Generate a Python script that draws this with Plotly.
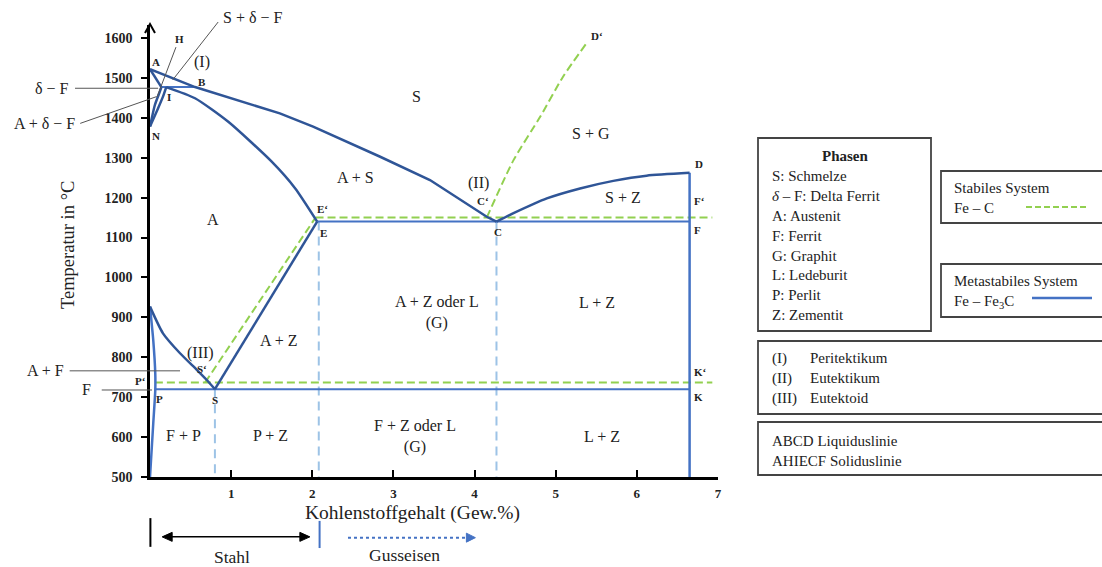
import plotly.graph_objects as go

# ---------------- data (C content in wt.%, temperature in °C) ----------------
# metastable system Fe-Fe3C (solid blue)
liq_abc_x = [0.00, 0.555, 1.60, 2.01, 2.83, 3.45, 4.15, 4.27]
liq_abc_T = [1522, 1477, 1411, 1378, 1303, 1244, 1152, 1140]
liq_cd_x = [4.27, 4.48, 4.89, 5.30, 5.71, 6.12, 6.65]
liq_cd_T = [1140, 1161, 1198, 1223, 1242, 1255, 1262]
sol_ah_x = [0.00, 0.14]
sol_ah_T = [1522, 1477]
perit_hb_x = [0.14, 0.555]
perit_hb_T = [1477, 1477]
nh_x = [0.00, 0.06, 0.12, 0.14]
nh_T = [1378, 1432, 1465, 1477]
ni_x = [0.00, 0.10, 0.16, 0.20]
ni_T = [1378, 1424, 1453, 1477]
sol_ie_x = [0.20, 0.555, 0.965, 1.50, 1.79, 2.06]
sol_ie_T = [1477, 1449, 1390, 1290, 1223, 1140]
eut_ecf_x = [2.06, 6.65]
eut_ecf_T = [1140, 1140]
dk_x = [6.65, 6.65]
dk_T = [1262, 500]
gs_x = [0.00, 0.16, 0.37, 0.58, 0.70, 0.80]
gs_T = [927, 860, 810, 768, 743, 720]
se_x = [0.80, 2.06]
se_T = [720, 1140]
gpq_x = [0.00, 0.04, 0.065, 0.065, 0.04, 0.00]
gpq_T = [927, 843, 759, 717, 634, 500]
psk_x = [0.06, 6.65]
psk_T = [720, 720]

# stable system Fe-C (green dashed)
st_ecf_x = [2.04, 6.93]
st_ecf_T = [1150, 1150]
st_cd_x = [4.15, 4.48, 4.81, 5.09, 5.38]
st_cd_T = [1150, 1294, 1403, 1503, 1587]
st_se_x = [0.68, 2.04]
st_se_T = [737, 1150]
st_psk_x = [0.06, 6.93]
st_psk_T = [737, 737]

# guide lines (light blue dashed)
guide_x = [0.80, 2.08, 4.27]
guide_top = [720, 1140, 1140]
guide_bottom = 500

x_tickvals = [1, 2, 3, 4, 5, 6, 7]
x_ticktext = ["1", "2", "3", "4", "5", "6", "7"]
y_tickvals = [500, 600, 700, 800, 900, 1000, 1100, 1200, 1300, 1400, 1500, 1600]

region_labels = [  # (x, T, text)
    (3.28, 1453, "S"),
    (5.44, 1361, "S + G"),
    (0.64, 1541, "(I)"),
    (2.53, 1250, "A + S"),
    (4.05, 1236, "(II)"),
    (5.83, 1200, "S + Z"),
    (0.78, 1144, "A"),
    (3.54, 911, "A + Z oder L<br>(G)"),
    (5.51, 938, "L + Z"),
    (1.58, 843, "A + Z"),
    (0.62, 811, "(III)"),
    (0.41, 603, "F + P"),
    (1.49, 603, "P + Z"),
    (3.27, 601, "F + Z oder L<br>(G)"),
    (5.57, 601, "L + Z"),
]
point_labels = [  # (x, T, text)
    (0.08, 1541, "A"), (0.36, 1597, "H"), (0.645, 1490, "B"), (0.23, 1453, "I"),
    (0.07, 1354, "N"), (5.51, 1605, "D‘"), (4.11, 1192, "C‘"), (2.12, 1172, "E‘"),
    (2.14, 1111, "E"), (4.29, 1115, "C"), (6.76, 1284, "D"), (6.77, 1192, "F‘"),
    (6.75, 1119, "F"), (0.64, 770, "S‘"), (-0.12, 741, "P‘"), (0.12, 695, "P"),
    (0.80, 693, "S"), (6.79, 762, "K‘"), (6.76, 700, "K"),
]

# ---------------- geometry / style ----------------
W, H = 1102, 567
ML, MR, MT, MB = 150, 384, 25, 90
PW, PH = W - ML - MR, H - MT - MB
X_RANGE = [0, 7]
Y_RANGE = [500, 1632.5]
SERIF = "Liberation Serif"
DARK = "#2f5597"
MID = "#4472c4"
GREEN = "#92d050"
LIGHT = "#9dc3e6"
TXT = "#222222"


def fx(x):
    return (x - X_RANGE[0]) / (X_RANGE[1] - X_RANGE[0])


def fy(t):
    return (t - Y_RANGE[0]) / (Y_RANGE[1] - Y_RANGE[0])


def gx(px):
    return (px - ML) / PW


def gy(py):
    return (H - MB - py) / PH


fig = go.Figure()


def line(x, y, color, width, dash="solid", shape="linear"):
    fig.add_trace(go.Scatter(x=x, y=y, mode="lines", hoverinfo="skip",
                             line=dict(color=color, width=width, dash=dash, shape=shape,
                                       smoothing=0.6),
                             showlegend=False))


# guide verticals
for gxv, gt in zip(guide_x, guide_top):
    line([gxv, gxv], [gt, guide_bottom], LIGHT, 2, dash="9px,6px")

# stable system
GD = "8px,4px"
line(st_psk_x, st_psk_T, GREEN, 2, GD)
line(st_ecf_x, st_ecf_T, GREEN, 2, GD)
line(st_se_x, st_se_T, GREEN, 2, GD)
line(st_cd_x, st_cd_T, GREEN, 2, GD, "spline")

# metastable system
line(psk_x, psk_T, MID, 2)
line(eut_ecf_x, eut_ecf_T, MID, 2)
line(dk_x, dk_T, MID, 2.5)
line(perit_hb_x, perit_hb_T, MID, 2)
line(gpq_x, gpq_T, MID, 2.5, shape="spline")
line(liq_abc_x, liq_abc_T, DARK, 2.5)
line(liq_cd_x, liq_cd_T, DARK, 2.5, shape="spline")
line(sol_ah_x, sol_ah_T, DARK, 2.5)
line(nh_x, nh_T, DARK, 2.5, shape="spline")
line(ni_x, ni_T, DARK, 2.5, shape="spline")
line(sol_ie_x, sol_ie_T, DARK, 2.5, shape="spline")
line(gs_x, gs_T, DARK, 2.5, shape="spline")
line(se_x, se_T, DARK, 2.5)

annotations = []
shapes = []


def label(x, t, text, size=16, bold=False, xanchor="center", angle=0, paper_px=False):
    ax_ = gx(x) if paper_px else fx(x)
    ay_ = gy(t) if paper_px else fy(t)
    annotations.append(dict(xref="paper", yref="paper", x=ax_, y=ay_, text=text,
                            showarrow=False, xanchor=xanchor, yanchor="middle",
                            textangle=angle,
                            font=dict(family=SERIF, size=size, color=TXT,
                                      weight="bold" if bold else "normal")))


def seg(x0, t0, x1, t1, color, width, dash="solid"):
    shapes.append(dict(type="line", xref="paper", yref="paper", x0=fx(x0), y0=fy(t0),
                       x1=fx(x1), y1=fy(t1), line=dict(color=color, width=width, dash=dash)))


def head(x, t, path, color, fill=True, width=1):
    shapes.append(dict(type="path", xref="paper", yref="paper",
                       xsizemode="pixel", ysizemode="pixel",
                       xanchor=fx(x), yanchor=fy(t), path=path,
                       fillcolor=color if fill else "rgba(0,0,0,0)",
                       line=dict(color=color, width=width)))


for x, t, s in region_labels:
    label(x, t, s, 16)
for x, t, s in point_labels:
    label(x, t, s, 11, bold=True)

# pointer lines for labels outside the plot
pointer_lines = [
    (0.84, 1640, 0.28, 1495),
    (0.32, 1577, 0.086, 1452),
    (-0.924, 1474, 0.10, 1474),
    (-0.86, 1386, 0.08, 1453),
    (-0.99, 766, 0.37, 766),
    (-0.595, 718, 0.025, 718),
]
for x0, t0, x1, t1 in pointer_lines:
    seg(x0, t0, x1, t1, "#555555", 1)
label(0.88, 1652, "S + δ − F", 16, xanchor="left")
label(-0.97, 1474, "δ − F", 16, xanchor="right")
label(-0.90, 1386, "A + δ − F", 16, xanchor="right")
label(-1.04, 766, "A + F", 16, xanchor="right")
label(-0.70, 718, "F", 16, xanchor="right")

# below-axis: Stahl / Gusseisen
seg(0.005, 397, 0.005, 325, "black", 2)
seg(2.09, 390, 2.09, 322, MID, 2)
seg(0.25, 350, 1.87, 350, "black", 1.5)
head(1.97, 350, "M 0,0 L -10,4.5 L -10,-4.5 Z", "black")
head(0.15, 350, "M 0,0 L 10,4.5 L 10,-4.5 Z", "black")
seg(2.44, 348, 3.92, 348, MID, 2, "dot")
head(4.01, 348, "M 0,0 L -9,4.5 L -9,-4.5 Z", MID)
label(1.01, 300, "Stahl", 17.5)
label(3.14, 305, "Gusseisen", 17.5)
label(3.24, 411, "Kohlenstoffgehalt (Gew.%)", 19.5)
label(68, 245, "Temperatur in °C", 18.5, angle=-90, paper_px=True)

# y-axis arrow tip (open chevron)
head(0, Y_RANGE[1], "M -5,-8 L 0,1 L 5,-8", "black", fill=False, width=2)

# ---------------- legend boxes (right side) ----------------
BOX = dict(color="#444444", width=1.8)
for (l, t, r, b) in [(758, 138, 931, 331), (941, 171, 1112, 223), (941, 264, 1112, 317),
                     (758, 341, 1112, 414), (758, 422, 1112, 475)]:
    shapes.append(dict(type="rect", xref="paper", yref="paper", x0=gx(l), x1=gx(r),
                       y0=gy(b), y1=gy(t), line=BOX, fillcolor="rgba(0,0,0,0)"))

label(845, 156, "Phasen", 15, bold=True, paper_px=True)
phase_lines = ["S: Schmelze", "<i>δ</i> – F: Delta Ferrit", "A: Austenit", "F: Ferrit",
               "G: Graphit", "L: Ledeburit", "P: Perlit", "Z: Zementit"]
phase_y = [176, 196, 216, 236, 256, 275, 295, 315]
for s, yy in zip(phase_lines, phase_y):
    label(770, yy, s, 15, xanchor="left", paper_px=True)

label(952, 188, "Stabiles System", 15, xanchor="left", paper_px=True)
label(952, 208, "Fe – C", 15, xanchor="left", paper_px=True)
shapes.append(dict(type="line", xref="paper", yref="paper", x0=gx(1026), x1=gx(1088),
                   y0=gy(207), y1=gy(207), line=dict(color=GREEN, width=2, dash="6px,3px")))
label(952, 281, "Metastabiles System", 15, xanchor="left", paper_px=True)
label(952, 302, "Fe – Fe<sub>3</sub>C", 15, xanchor="left", paper_px=True)
shapes.append(dict(type="line", xref="paper", yref="paper", x0=gx(1032), x1=gx(1092),
                   y0=gy(298), y1=gy(298), line=dict(color=MID, width=2.5)))

for s1, s2, yy in [("(I)", "Peritektikum", 358), ("(II)", "Eutektikum", 378),
                   ("(III)", "Eutektoid", 398)]:
    label(770, yy, s1, 15, xanchor="left", paper_px=True)
    label(808, yy, s2, 15, xanchor="left", paper_px=True)
label(770, 441, "ABCD Liquiduslinie", 15, xanchor="left", paper_px=True)
label(770, 461, "AHIECF Soliduslinie", 15, xanchor="left", paper_px=True)

fig.update_layout(
    width=W, height=H, margin=dict(l=ML, r=MR, t=MT, b=MB),
    paper_bgcolor="white", plot_bgcolor="white", showlegend=False,
    font=dict(family=SERIF, color=TXT),
    annotations=annotations, shapes=shapes,
)
fig.update_xaxes(range=X_RANGE, showline=True, linecolor="black", linewidth=2.5,
                 ticks="inside", ticklen=7, tickwidth=2, tickcolor="black",
                 tickvals=x_tickvals, ticktext=x_ticktext, showgrid=False, zeroline=False,
                 tickfont=dict(family=SERIF, size=13, color=TXT, weight="bold"),
                 ticklabelstandoff=3)
fig.update_yaxes(range=Y_RANGE, showline=True, linecolor="black", linewidth=2.5,
                 ticks="outside", ticklen=6, tickwidth=2, tickcolor="black",
                 tickvals=y_tickvals, showgrid=False, zeroline=False,
                 tickfont=dict(family=SERIF, size=14, color=TXT, weight="bold"),
                 ticklabelstandoff=6)

fig.write_html("out.html")
